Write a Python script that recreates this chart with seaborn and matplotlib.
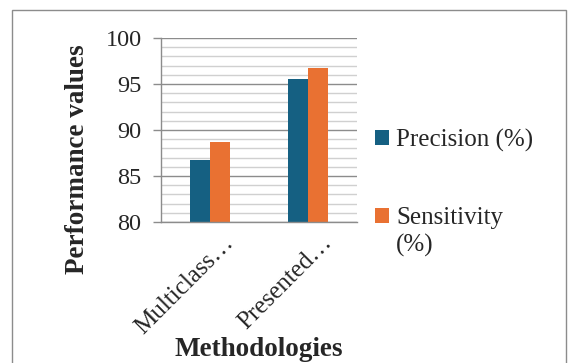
import matplotlib
matplotlib.use("Agg")
import matplotlib.pyplot as plt
import matplotlib.transforms as mtransforms
from matplotlib.patches import Rectangle
from matplotlib.ticker import MultipleLocator
import seaborn as sns
import pandas as pd

methods = ["Multiclass…", "Presented…"]
precision = [86.7, 95.5]
sensitivity = [88.7, 96.7]
series_names = ["Precision (%)", "Sensitivity (%)"]
legend_labels = ["Precision (%)", "Sensitivity"]
legend_extra = "(%)"
colors = ["#156082", "#E97132"]

df = pd.DataFrame({
    "Methodologies": methods * 2,
    "value": precision + sensitivity,
    "series": [series_names[0]] * len(methods) + [series_names[1]] * len(methods),
})

sns.set_theme(style="white")
plt.rcParams["font.family"] = ["Liberation Serif", "DejaVu Serif"]

fig = plt.figure(figsize=(5.68, 3.63), dpi=100)
ax = fig.add_axes([161 / 568, 1 - 222 / 363, 196 / 568, 184 / 363])

sns.barplot(data=df, x="Methodologies", y="value", hue="series",
            palette=colors, width=0.4, ax=ax, saturation=1,
            edgecolor="none", legend=True)

ax.set_ylim(80, 100)
ax.set_xlim(-0.5, 1.5)
ax.yaxis.set_major_locator(MultipleLocator(5))
ax.yaxis.set_minor_locator(MultipleLocator(1))
ax.grid(False)
ax.set_axisbelow(True)
ax.grid(which="minor", axis="y", color="#d0d0d0", linewidth=1.0)
ax.grid(which="major", axis="y", color="#8c8c8c", linewidth=1.0)

for s in ["top", "right"]:
    ax.spines[s].set_visible(False)
ax.spines["left"].set_color("#8c8c8c")
ax.spines["bottom"].set_color("#8c8c8c")
ax.spines["left"].set_linewidth(1.0)
ax.spines["bottom"].set_linewidth(1.0)

ax.tick_params(axis="y", which="major", left=True, length=6, width=1.0,
               color="#8c8c8c", labelsize=17.5, pad=8)
ax.tick_params(axis="y", which="minor", left=False)
ax.tick_params(axis="x", bottom=False, labelsize=18, pad=1)

for lbl in ax.get_xticklabels():
    lbl.set_rotation(45)
    lbl.set_ha("right")
    lbl.set_rotation_mode("anchor")
    lbl.set_transform(lbl.get_transform() + mtransforms.ScaledTranslation(0.13, 0.0, fig.dpi_scale_trans))

ax.set_xlabel("Methodologies", fontsize=19.5, fontweight="bold")
ax.xaxis.set_label_coords(0.5, (222 - 337) / 184)
ax.set_ylabel("Performance values", fontsize=19.5, fontweight="bold")
ax.yaxis.set_label_coords((90 - 161) / 196, (222 - 159) / 184)

handles, _ = ax.get_legend_handles_labels()
leg = ax.legend(handles, legend_labels, loc="upper left",
                bbox_to_anchor=(375 / 568, 1 - 129 / 363), bbox_transform=fig.transFigure,
                frameon=False, fontsize=18, handlelength=0.55, handleheight=0.55,
                handletextpad=0.3, labelspacing=2.2, borderpad=0, borderaxespad=0)

fig.canvas.draw()
bb = leg.get_texts()[1].get_window_extent()
fig.text(bb.x0, bb.y0 - 5, legend_extra, fontsize=18, ha="left", va="top",
         transform=None)

fig.patches.append(Rectangle((12 / 568, -0.05), 554 / 568, 1.05 - 10 / 363,
                             transform=fig.transFigure, fill=False,
                             edgecolor="#8c8c8c", linewidth=1.0))

fig.savefig("out.png", dpi=100)
